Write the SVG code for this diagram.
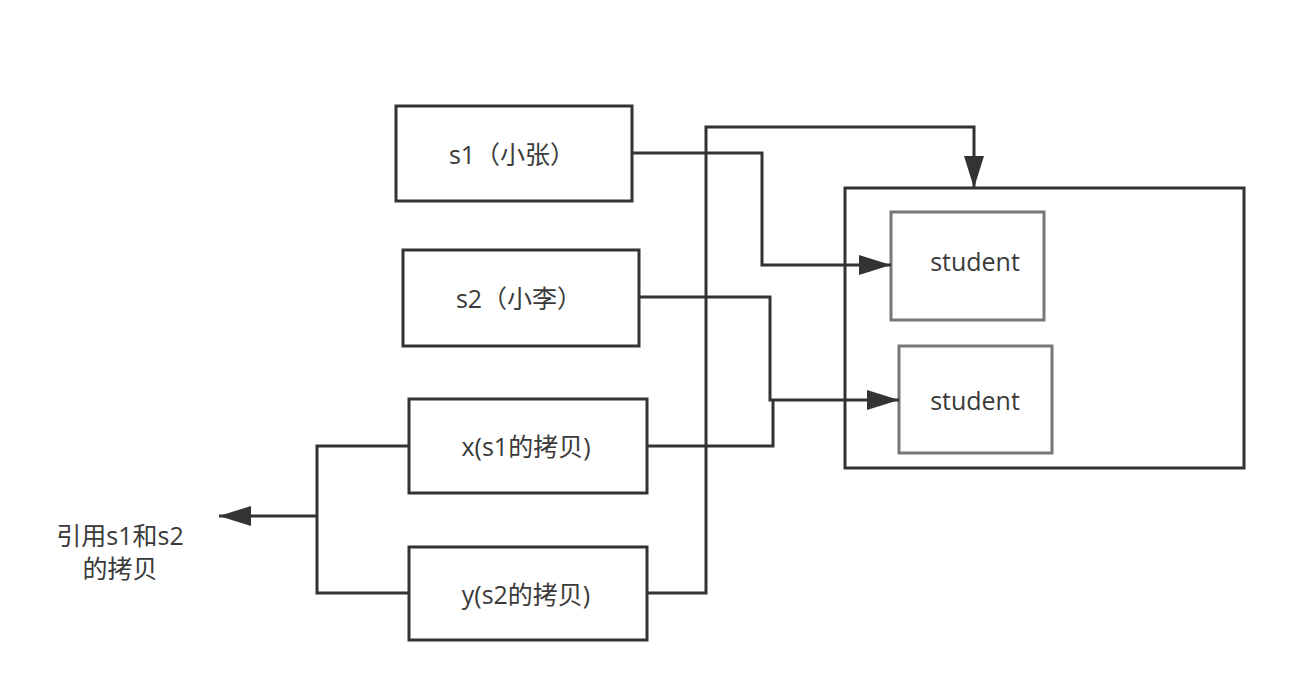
<svg xmlns="http://www.w3.org/2000/svg" width="1316" height="686" viewBox="0 0 1316 686">
<defs>
<style>
.box{fill:#fff;stroke:#333;stroke-width:3}
.inner{fill:#fff;stroke:#777;stroke-width:3}
.lbl{font-family:"Open Sans","Noto Sans CJK SC",sans-serif;font-size:25px;fill:#3a3a3a;text-anchor:middle}
.con{fill:none;stroke:#333;stroke-width:3}
</style>
<marker id="arr" markerUnits="userSpaceOnUse" markerWidth="32" markerHeight="20" refX="32" refY="10" orient="auto">
<path d="M0,0 L32,10 L0,20 Z" fill="#333"/>
</marker>
</defs>
<rect width="1316" height="686" fill="#fff"/>
<g id="heap">
<rect class="box" x="845" y="188" width="399" height="280"/>
</g>
<g id="student1">
<rect class="inner" x="891" y="212" width="153" height="108"/>
<text class="lbl" x="975" y="271">student</text>
</g>
<g id="student2">
<rect class="inner" x="899" y="346" width="153" height="107"/>
<text class="lbl" x="975" y="410">student</text>
</g>
<g id="s1">
<rect class="box" x="396" y="106" width="236" height="95"/>
<text class="lbl" x="512" y="164">s1（小张）</text>
</g>
<g id="s2">
<rect class="box" x="403" y="250" width="236" height="96"/>
<text class="lbl" x="519" y="308">s2（小李）</text>
</g>
<g id="x">
<rect class="box" x="409" y="399" width="238" height="94"/>
<text class="lbl" x="526" y="456">x(s1的拷贝)</text>
</g>
<g id="y">
<rect class="box" x="409" y="547" width="238" height="93"/>
<text class="lbl" x="526" y="604">y(s2的拷贝)</text>
</g>
<g id="note">
<text class="lbl" x="120" y="545">引用s1和s2</text>
<text class="lbl" x="120" y="578">的拷贝</text>
</g>
<g id="connectors">
<path class="con" d="M632,153 H762 V265 H891" marker-end="url(#arr)"/>
<path class="con" d="M639,297 H770 V400 H899" marker-end="url(#arr)"/>
<path class="con" d="M647,446 H773 V400"/>
<path class="con" d="M647,593 H706 V127 H974 V188" marker-end="url(#arr)"/>
<path class="con" d="M409,446 H317 V593 H409"/>
<path class="con" d="M317,516 H219" marker-end="url(#arr)"/>
</g>
</svg>
